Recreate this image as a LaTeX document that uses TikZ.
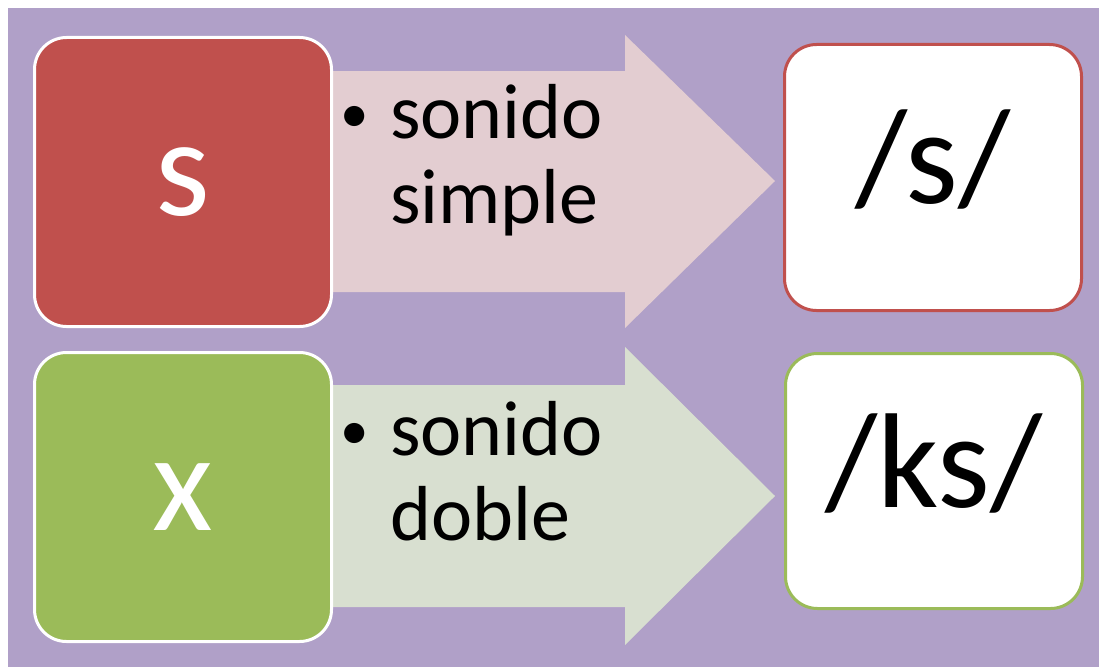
\documentclass[tikz,border=0pt]{standalone}
\usepackage{fontspec}
\setmainfont{Carlito}
\usetikzlibrary{positioning}

\definecolor{fondo}{RGB}{176,160,200}
\definecolor{rojo}{RGB}{192,80,77}
\definecolor{verde}{RGB}{155,187,89}
\definecolor{rosa}{RGB}{227,205,209}
\definecolor{gris}{RGB}{216,223,208}

\tikzset{
  letra/.style={rectangle, rounded corners=32pt, draw=white, line width=3pt,
    minimum width=297pt, minimum height=289pt, text=white,
    font=\fontsize{140}{150}\selectfont},
  caja/.style={rectangle, rounded corners=32pt, fill=white, line width=3pt,
    minimum width=297pt},
  fono/.style={anchor=base, inner sep=0pt, font=\fontsize{135}{140}\selectfont},
  texto/.style={anchor=base west, inner sep=0pt, font=\fontsize{78}{85}\selectfont},
  vineta/.style={anchor=base west, inner sep=0pt, font=\fontsize{57}{60}\selectfont},
}

\begin{document}
\begin{tikzpicture}[x=1pt,y=-1pt]
  \fill[white] (0,0) rectangle (1099,669) ;
  \fill[fondo] (8,8) rectangle (1099,667) ;
  \useasboundingbox (0,0) rectangle (1099,669) ;

  % flechas
  \fill[rosa] (183,71) -- (625,71) -- (625,35) -- (775,181)
    -- (625,328) -- (625,292) -- (183,292) -- cycle ;
  \fill[gris] (183,385) -- (625,385) -- (625,347) -- (775,496)
    -- (625,645) -- (625,607) -- (183,607) -- cycle ;

  \node[letra,fill=rojo] (s) at (183,182) {s} ;
  \node[letra,fill=verde] (x) at (183,497) {x} ;

  \node[caja,draw=rojo,minimum height=266pt] (cs) at (933,177.5) {} ;
  \node[caja,draw=verde,minimum height=255pt] (cx) at (934,481) {} ;
  \node[fono] (fs) at (933,203) {/s/} ;
  \node[fono] (fx) at (934,507) {/ks/} ;

  \node[vineta] (b1) at (340,132) {•} ;
  \node[texto] (t1) at (390,138) {sonido} ;
  \node[texto] (t2) at (390,223) {simple} ;
  \node[vineta] (b2) at (340,449) {•} ;
  \node[texto] (t3) at (390,455) {sonido} ;
  \node[texto] (t4) at (390,540) {doble} ;
\end{tikzpicture}
\end{document}
